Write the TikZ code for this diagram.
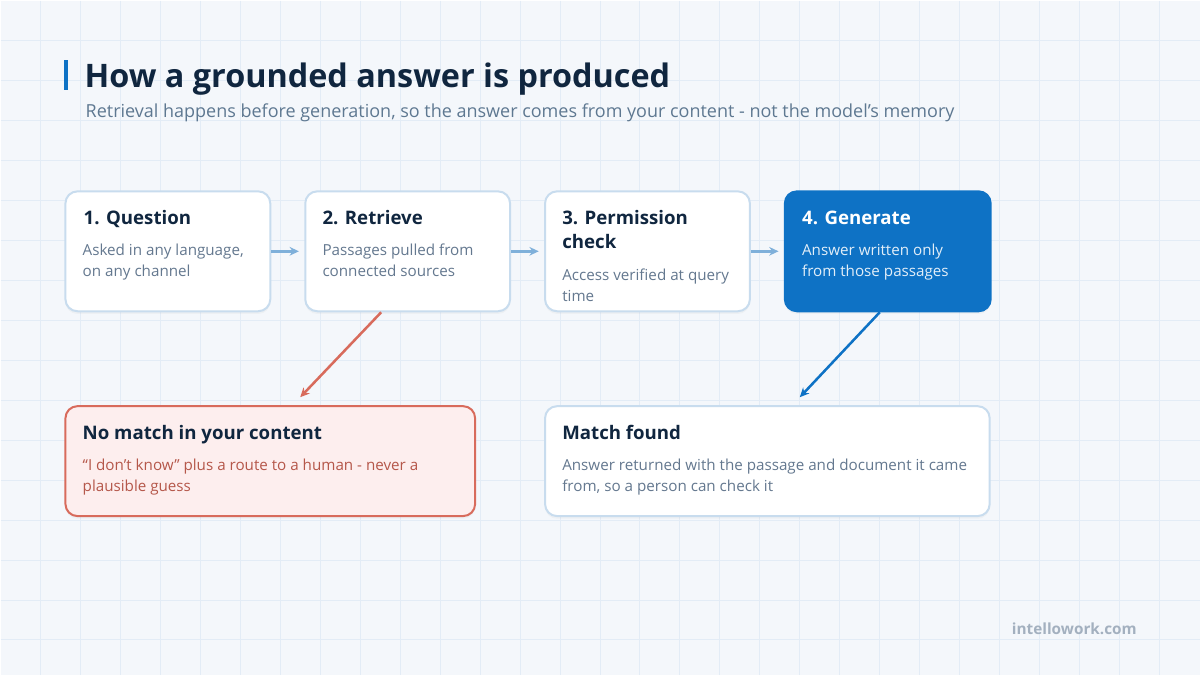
\documentclass[tikz,border=0pt]{standalone}
\usepackage{fontspec}
\setmainfont{Open Sans}
\usetikzlibrary{arrows.meta,calc,shadows}
\definecolor{bgc}{HTML}{F4F7FB}
\definecolor{gridc}{HTML}{E3ECF6}
\definecolor{boxline}{HTML}{C8DCEE}
\definecolor{flowc}{HTML}{7FB0DA}
\definecolor{bluec}{HTML}{0E72C5}
\definecolor{redc}{HTML}{D86B5C}
\definecolor{redfill}{HTML}{FDEEEE}
\definecolor{redtext}{HTML}{B5574A}
\definecolor{darkc}{HTML}{10263F}
\definecolor{greyc}{HTML}{64788F}
\definecolor{subc}{HTML}{5E7891}
\definecolor{footc}{HTML}{A3B0BF}
\begin{document}
\begin{tikzpicture}[x=0.75pt,y=-0.75pt,
  card/.style={draw=boxline,line width=1.5pt,fill=white,rounded corners=9pt,
    minimum width=#1*0.75pt,minimum height=120*0.75pt,anchor=north west,inner sep=0pt,
    drop shadow={opacity=0.06,shadow xshift=0pt,shadow yshift=-2pt}},
  bluecard/.style={card=#1,draw=bluec,fill=bluec},
  redcard/.style={card=#1,draw=redc,fill=redfill,minimum height=110*0.75pt},
  wcard/.style={card=#1,minimum height=110*0.75pt},
  ttl/.style={anchor=base west,inner sep=0pt,text=darkc,font=\fontsize{14pt}{18pt}\selectfont\bfseries},
  bdy/.style={anchor=base west,inner sep=0pt,text=greyc,font=\fontsize{11.4pt}{15.75pt}\selectfont,align=left},
  flow/.style={draw=flowc,line width=1.9pt,-{Stealth[length=7pt,width=6.5pt]},shorten >=4pt},
]
\fill[bgc] (0,0) rectangle (1200,675);
\foreach \i in {40,80,...,1160} \draw[gridc,line width=0.75pt] (\i,0) -- (\i,675);
\foreach \j in {40,80,...,640} \draw[gridc,line width=0.75pt] (0,\j) -- (1200,\j);
\useasboundingbox (0,0) rectangle (1200,675);

% title
\fill[bluec] (64,60) rectangle (68,90);
\node[anchor=base west,inner sep=0pt,text=darkc,font=\fontsize{24.3pt}{28pt}\selectfont\bfseries] (title) at (84,87) {How a grounded answer is produced};
\node[anchor=base west,inner sep=0pt,text=subc,font=\fontsize{13.5pt}{16pt}\selectfont] (sub) at (85,117) {Retrieval happens before generation, so the answer comes from your content - not the model’s memory};

% cards
\node[card=205] (b1) at (64,190) {};
\node[card=205] (b2) at (304,190) {};
\node[card=205] (b3) at (544,190) {};
\node[bluecard=206] (b4) at (784,190) {};
\node[redcard=410] (b5) at (64,405) {};
\node[wcard=445] (b6) at (544,405) {};

\node[ttl] (t1) at (83,224) {1. Question};
\node[bdy] (d1) at (82,276) {Asked in any language,\\on any channel};
\node[ttl] (t2) at (322,224) {2. Retrieve};
\node[bdy] (d2) at (322,276) {Passages pulled from\\connected sources};
\node[ttl,align=left] (t3) at (562,248) {3. Permission\\check};
\node[bdy] (d3) at (562,301) {Access verified at query\\time};
\node[ttl,text=white] (t4) at (802,224) {4. Generate};
\node[bdy,text=white!88!bluec] (d4) at (802,276) {Answer written only\\from those passages};

\node[ttl] (t5) at (82,439) {No match in your content};
\node[bdy,text=redtext] (d5) at (82,491) {“I don’t know” plus a route to a human - never a\\plausible guess};
\node[ttl] (t6) at (562,439) {Match found};
\node[bdy] (d6) at (562,491) {Answer returned with the passage and document it came\\from, so a person can check it};

\node[anchor=base west,inner sep=0pt,text=footc,font=\fontsize{11.5pt}{14pt}\selectfont\bfseries] (foot) at (1012,635) {intellowork.com};

% connectors
\draw[flow] (b1.east) -- (b2.west);
\draw[flow] (b2.east) -- (b3.west);
\draw[flow] (b3.east) -- (b4.west);
\coordinate (rs) at ($(b2.south west)+(77,0)$);
\coordinate (re) at ($(b5.north west)+(236,-8)$);
\coordinate (bs) at ($(b4.south west)+(96,0)$);
\coordinate (be) at ($(b6.north west)+(256,-8)$);
\draw[redc,line width=1.9pt,-{Stealth[length=7pt,width=6.5pt]}] (rs) -- (re);
\draw[bluec,line width=1.9pt,-{Stealth[length=7pt,width=6.5pt]}] (bs) -- (be);
\end{tikzpicture}
\end{document}
